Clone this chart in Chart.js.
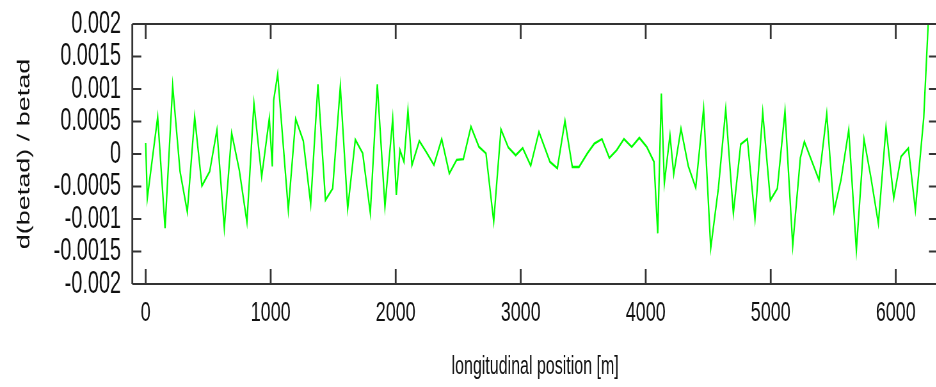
<!DOCTYPE html>
<html>
<head>
<meta charset="utf-8">
<script src="https://cdn.jsdelivr.net/npm/chart.js@4/dist/chart.umd.min.js"></script>
<style>
  html, body { margin: 0; padding: 0; background: #fff; overflow: hidden; width: 936px; height: 387px; }
  #c { display: block; }
</style>
</head>
<body>
<canvas id="c" width="1500" height="387" style="width:960px;height:387px"></canvas>
<script>
// ---- data ----
const positions = [0, 13, 96, 155, 216, 275, 333, 392, 450, 512, 570, 629, 688, 749, 810, 866, 928, 989, 1013, 1024,
  1056, 1141, 1200, 1261, 1320, 1378, 1438, 1496, 1557, 1616, 1677, 1736, 1797, 1853, 1914, 1976, 2005, 2034, 2066, 2098,
  2130, 2189, 2248, 2306, 2368, 2429, 2488, 2541, 2602, 2666, 2722, 2784, 2842, 2901, 2960, 3016, 3080, 3146, 3234, 3293,
  3354, 3413, 3466, 3533, 3589, 3650, 3709, 3768, 3826, 3888, 3949, 4008, 4066, 4096, 4125, 4149, 4194, 4224, 4282, 4341,
  4400, 4463, 4520, 4581, 4640, 4701, 4760, 4813, 4874, 4936, 4997, 5053, 5114, 5176, 5237, 5269, 5386, 5448, 5506, 5562,
  5624, 5685, 5746, 5802, 5861, 5922, 5984, 6042, 6101, 6157, 6224, 6262];
const dBeta = [0.00017, -0.00068, 0.00057, -0.00114, 0.00105, -0.00027, -0.00089, 0.00057, -0.00049, -0.00027, 0.00037, -0.00114, 0.00032, -0.00025, -0.00105, 0.00078, -0.00035, 0.00055, -0.00019, 0.00083,
  0.00123, -0.00086, 0.00054, 0.00020, -0.00077, 0.00107, -0.00071, -0.00053, 0.00104, -0.00084, 0.00022, 0.00001, -0.00091, 0.00107, -0.00081, 0.00054, -0.00063, 0.00006, -0.00012, 0.00067,
  -0.00017, 0.00020, 0.00002, -0.00017, 0.00023, -0.00030, -0.00009, -0.00008, 0.00042, 0.00011, 0.00001, -0.00104, 0.00038, 0.00010, -0.00002, 0.00009, -0.00018, 0.00034, -0.00012, -0.00022,
  0.00051, -0.00020, -0.00020, 0.00001, 0.00016, 0.00023, -0.00006, 0.00006, 0.00023, 0.00011, 0.00025, 0.00011, -0.00012, -0.00122, 0.00093, -0.00045, 0.00029, -0.00031, 0.00039, -0.00019,
  -0.00052, 0.00070, -0.00145, -0.00053, 0.00069, -0.00091, 0.00015, 0.00023, -0.00100, 0.00064, -0.00071, -0.00053, 0.00066, -0.00141, -0.00006, 0.00019, -0.00040, 0.00062, -0.00088, -0.00040,
  0.00037, -0.00148, 0.00023, -0.00037, -0.00107, 0.00041, -0.00068, -0.00004, 0.00009, -0.00086, 0.00056, 0.00210];
const xTicks = [0, 1000, 2000, 3000, 4000, 5000, 6000];
const yTicks = [0.002, 0.0015, 0.001, 0.0005, 0, -0.0005, -0.001, -0.0015, -0.002];
const yTickLabels = ['0.002', '0.0015', '0.001', '0.0005', '0', '-0.0005', '-0.001', '-0.0015', '-0.002'];
const xTitle = 'longitudinal position [m]';
const yTitle = 'd(betad) / betad';

const FONT = '"Liberation Sans", Arial, sans-serif';
const K = 0.64; // horizontal compression of the whole picture

const framePlugin = {
  id: 'frame',
  afterDatasetsDraw(chart) {
    const { ctx, chartArea: a, scales: { x, y } } = chart;
    ctx.save();
    ctx.strokeStyle = '#333';
    ctx.lineCap = 'butt';
    ctx.lineWidth = 2.2;
    ctx.beginPath();
    ctx.moveTo(a.left, a.top); ctx.lineTo(a.right, a.top);
    ctx.moveTo(a.left, a.bottom); ctx.lineTo(a.right, a.bottom);
    yTicks.forEach(v => {
      if (v === yTicks[0] || v === yTicks[yTicks.length - 1]) return;
      const py = y.getPixelForValue(v);
      ctx.moveTo(a.left, py); ctx.lineTo(a.left + 9 / K, py);
      ctx.moveTo(a.right, py); ctx.lineTo(a.right - 9 / K, py);
    });
    ctx.stroke();
    ctx.lineWidth = 2.8;
    ctx.beginPath();
    ctx.moveTo(a.left, a.top); ctx.lineTo(a.left, a.bottom);
    ctx.moveTo(a.right, a.top); ctx.lineTo(a.right, a.bottom);
    xTicks.forEach(v => {
      const px = x.getPixelForValue(v);
      ctx.moveTo(px, a.bottom); ctx.lineTo(px, a.bottom - 15);
      ctx.moveTo(px, a.top); ctx.lineTo(px, a.top + 15);
    });
    ctx.stroke();
    ctx.restore();
  }
};

new Chart(document.getElementById('c'), {
  type: 'line',
  data: {
    datasets: [{
      data: positions.map((p, i) => ({ x: p, y: dBeta[i] })),
      borderColor: '#00ff00',
      borderWidth: 2.3,
      pointRadius: 0,
      tension: 0,
      fill: false
    }]
  },
  plugins: [framePlugin],
  options: {
    responsive: false,
    animation: false,
    devicePixelRatio: 1,
    events: [],
    layout: { padding: { top: 24, left: 0, right: 34.4, bottom: 0 } },
    plugins: { legend: { display: false }, tooltip: { enabled: false } },
    scales: {
      x: {
        type: 'linear',
        min: -107,
        max: 6338,
        afterBuildTicks: s => { s.ticks = xTicks.map(v => ({ value: v })); },
        afterFit: s => { s.height = 103; s.paddingLeft = 0; s.paddingRight = 0; },
        grid: { display: false, drawTicks: false },
        border: { display: false },
        ticks: {
          padding: 12.5,
          maxRotation: 0,
          autoSkip: false,
          color: '#111',
          font: { family: FONT, size: 28 },
          callback: v => String(v)
        },
        title: {
          display: true,
          text: xTitle,
          color: '#111',
          font: { family: FONT, size: 25 },
          padding: { top: 0, bottom: 4.7 }
        }
      },
      y: {
        type: 'linear',
        min: -0.002,
        max: 0.002,
        afterBuildTicks: s => { s.ticks = yTicks.slice().reverse().map(v => ({ value: v })); },
        afterFit: s => { s.width = 206.7; s.paddingTop = 0; s.paddingBottom = 0; },
        grid: { display: false, drawTicks: false },
        border: { display: false },
        ticks: {
          padding: 17.7,
          autoSkip: false,
          color: '#111',
          font: { family: FONT, size: 31 },
          callback: v => {
            const i = yTicks.findIndex(t => Math.abs(t - v) < 1e-9);
            return i >= 0 ? yTickLabels[i] : '';
          }
        },
        title: {
          display: true,
          text: yTitle,
          color: '#111',
          font: { family: FONT, size: 27 },
          padding: { top: 22.8, bottom: 0 }
        }
      }
    }
  }
});
</script>
</body>
</html>
